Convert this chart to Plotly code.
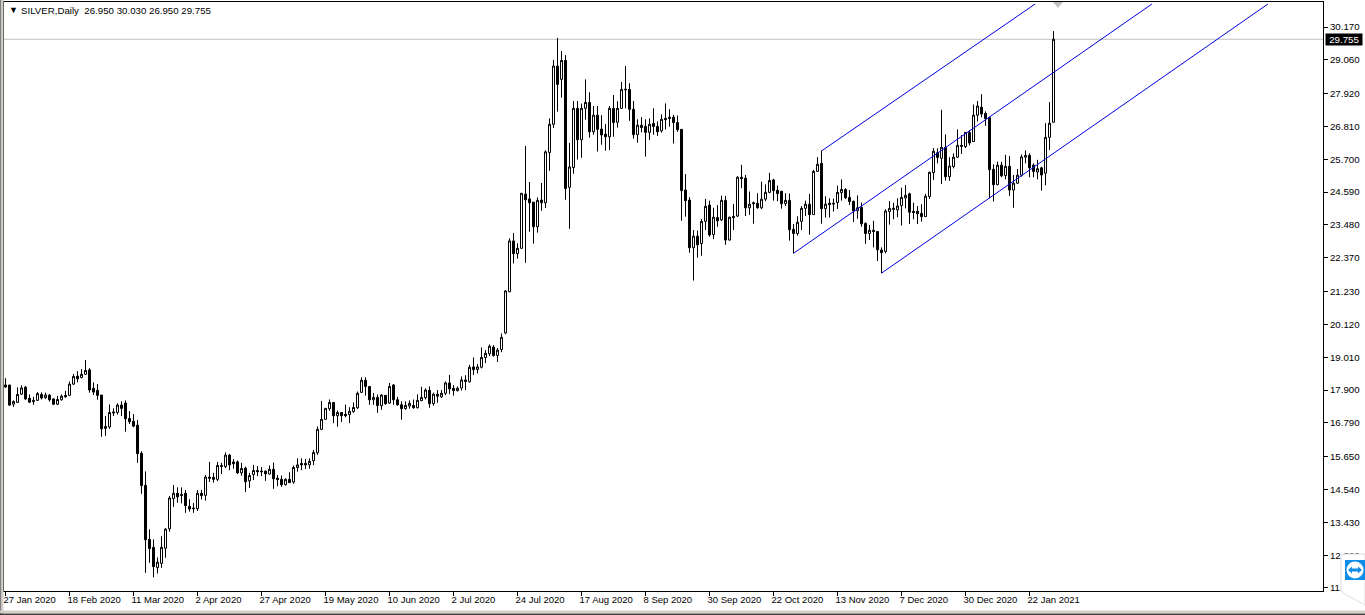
import plotly.graph_objects as go

opens = [18.07,18.07,17.42,17.48,17.76,18.00,17.62,17.55,17.55,17.75,17.64,17.73,17.60,17.42,17.57,17.72,17.72,18.10,18.37,18.32,
18.43,18.58,17.96,17.89,17.73,16.60,16.65,17.16,17.14,17.39,17.46,16.94,16.84,16.71,15.76,14.68,12.85,12.58,11.90,12.04,
12.55,13.21,14.23,14.41,14.37,14.41,13.97,13.91,13.89,14.41,14.34,14.96,14.95,14.88,15.35,15.31,15.70,15.47,15.47,15.10,
15.26,14.83,15.04,15.18,15.16,15.16,15.06,15.22,14.92,14.88,14.70,14.88,14.79,15.28,15.42,15.42,15.37,15.51,15.78,16.57,
16.91,17.27,17.48,17.03,17.14,17.08,17.07,17.17,17.30,17.82,18.23,18.02,17.57,17.65,17.37,17.72,17.46,18.07,17.57,17.40,
17.27,17.36,17.38,17.30,17.54,17.64,17.89,17.44,17.76,17.67,17.79,18.14,17.96,17.88,17.97,18.24,18.18,18.68,18.59,18.67,
19.00,19.13,19.35,19.07,19.27,19.83,21.22,22.94,22.51,22.69,24.52,24.36,24.25,23.42,24.32,24.23,25.93,26.88,28.85,28.40,
29.04,24.75,25.42,27.42,26.36,27.42,27.62,26.63,27.19,26.72,26.55,26.46,27.42,26.95,27.42,28.07,28.06,27.39,26.53,26.85,
26.81,26.61,26.91,26.81,26.66,27.08,27.12,27.12,26.94,26.71,24.66,24.32,22.71,23.10,22.85,23.60,24.15,23.15,23.73,23.65,
24.31,22.97,23.77,23.78,25.09,25.06,24.06,24.23,24.21,24.06,24.35,24.58,25.00,24.65,24.62,24.20,24.31,23.33,23.19,23.60,
24.04,24.18,23.83,25.29,25.56,24.03,24.21,24.21,24.24,24.57,24.68,24.41,24.28,23.96,24.07,23.53,23.19,23.30,23.26,22.63,
22.58,23.93,24.04,23.99,24.13,24.39,24.53,23.94,23.94,23.87,23.76,24.44,25.25,25.92,25.73,26.10,25.11,25.45,25.77,26.17,
26.13,26.60,26.30,27.19,27.46,27.25,27.11,25.36,24.84,25.50,25.15,25.46,24.66,24.89,25.16,25.77,25.83,25.50,25.27,25.41,
25.23,26.44,26.95]

highs = [18.30,18.07,17.55,17.99,18.06,18.03,17.75,17.67,17.83,17.82,17.81,17.76,17.62,17.70,17.75,17.87,18.19,18.44,18.54,18.61,
18.91,18.64,18.16,18.10,17.73,17.02,17.41,17.28,17.45,17.52,17.55,17.19,17.09,16.89,15.83,15.15,13.19,12.85,12.24,12.96,
13.23,14.32,14.69,14.61,14.61,14.52,14.21,14.08,14.52,14.52,15.03,15.47,15.10,15.47,15.44,15.79,15.74,15.57,15.52,15.44,
15.31,15.10,15.37,15.33,15.30,15.18,15.35,15.45,15.03,15.01,14.92,15.12,15.35,15.59,15.59,15.57,15.59,15.87,16.67,17.53,
17.28,17.58,17.49,17.21,17.14,17.41,17.32,17.48,17.85,18.33,18.33,18.02,17.80,17.75,17.76,17.72,18.14,18.10,17.67,17.52,
17.52,17.55,17.58,17.75,18.01,17.96,18.02,17.81,17.90,17.90,18.19,18.41,18.07,18.02,18.36,18.40,18.75,19.00,18.78,19.34,
19.25,19.44,19.42,19.32,19.81,21.28,23.03,23.21,22.86,24.55,26.15,24.93,24.25,24.41,24.90,26.00,27.08,29.06,29.80,29.36,
29.22,26.25,27.67,27.67,27.58,28.40,27.96,27.50,27.50,27.19,26.89,27.50,27.87,27.66,28.31,28.85,28.27,27.67,27.05,27.12,
27.05,27.08,27.42,26.98,27.22,27.59,27.39,27.20,27.18,26.71,25.20,24.42,23.31,23.29,23.68,24.36,24.30,24.06,24.15,24.47,
24.46,23.76,24.19,25.13,25.51,25.17,24.61,24.27,24.55,24.94,24.85,25.24,25.04,24.81,24.62,24.55,24.54,23.51,23.77,24.12,
24.30,24.53,25.34,25.77,25.99,24.45,24.38,24.37,24.81,25.02,24.72,24.66,24.30,24.48,24.24,23.57,23.48,23.62,23.26,22.72,
24.01,24.29,24.23,24.38,24.74,24.83,24.57,24.23,24.12,24.18,24.53,25.28,26.08,26.07,27.37,26.54,25.77,25.90,26.71,26.52,
26.61,26.69,27.55,27.67,27.90,27.32,27.14,25.53,25.62,25.61,25.85,25.81,25.17,25.37,25.86,26.00,25.90,25.56,25.68,25.45,
26.92,27.63,30.03]

lows = [17.98,17.37,17.33,17.47,17.73,17.56,17.46,17.40,17.53,17.58,17.60,17.51,17.39,17.39,17.54,17.64,17.70,18.07,18.16,18.30,
18.41,17.81,17.73,17.57,16.32,16.35,16.59,17.02,17.07,17.02,16.49,16.75,16.64,15.44,14.39,11.72,12.06,11.57,11.70,11.89,
12.23,13.11,13.95,14.09,14.07,13.75,13.79,13.75,13.81,14.20,14.16,14.79,14.77,14.82,15.06,15.26,15.19,15.24,15.06,15.00,
14.45,14.59,14.86,14.99,14.99,14.83,15.04,14.56,14.65,14.63,14.67,14.76,14.73,15.14,15.19,15.23,15.24,15.36,15.71,16.55,
16.89,17.20,16.78,16.66,16.82,16.98,16.78,17.13,17.26,17.80,17.71,17.40,17.40,17.13,17.23,17.40,17.43,17.40,17.37,16.90,
17.23,17.27,17.27,17.28,17.52,17.58,17.30,17.37,17.47,17.63,17.73,17.76,17.71,17.85,17.88,17.90,18.15,18.41,18.46,18.63,
18.81,19.05,19.03,18.85,19.18,19.79,21.21,22.18,22.34,22.68,22.20,23.25,22.85,23.22,23.96,24.05,25.31,26.76,27.31,27.78,
24.33,23.35,25.21,25.69,25.75,27.04,26.43,26.53,25.96,26.19,25.99,26.01,26.46,26.77,27.41,27.42,27.00,26.40,26.26,26.61,
25.79,26.35,26.53,26.49,26.60,26.71,26.80,26.23,26.63,23.62,23.76,22.54,21.60,22.37,22.44,23.31,23.08,23.00,23.42,23.61,
22.81,22.95,23.31,23.75,24.72,23.78,23.82,23.52,24.03,24.01,24.28,24.55,24.30,24.28,24.03,24.12,22.95,22.52,23.12,23.31,
23.78,23.15,23.83,25.27,23.52,23.73,23.73,23.93,24.02,24.30,24.35,24.15,23.58,23.69,23.42,22.84,22.97,22.72,22.26,21.85,
22.52,23.49,23.67,23.74,23.46,24.04,23.51,23.67,23.51,23.59,23.76,24.36,25.00,25.56,24.86,24.98,24.97,25.39,25.74,25.88,
26.08,26.17,26.29,26.98,27.12,26.83,24.38,24.27,24.82,25.09,25.02,24.46,24.06,24.86,25.11,25.56,25.09,25.09,25.02,24.64,
24.82,26.01,26.95]

closes = [18.00,17.39,17.51,17.75,17.97,17.60,17.49,17.51,17.78,17.63,17.73,17.57,17.42,17.58,17.69,17.67,18.10,18.36,18.28,18.43,
18.56,17.90,17.83,17.72,16.59,16.67,17.14,17.13,17.39,17.28,16.93,16.83,16.68,15.75,14.67,12.84,12.54,11.93,12.08,12.58,
13.20,14.25,14.41,14.29,14.34,13.99,13.88,13.89,14.41,14.33,14.96,14.92,14.88,15.35,15.32,15.70,15.37,15.41,15.10,15.25,
14.80,15.01,15.18,15.14,15.14,15.07,15.22,14.90,14.87,14.70,14.88,14.77,15.28,15.37,15.37,15.37,15.49,15.79,16.57,16.91,
17.28,17.48,17.03,17.14,17.03,17.03,17.18,17.31,17.79,18.23,18.02,17.57,17.65,17.37,17.73,17.44,18.02,17.57,17.40,17.27,
17.38,17.45,17.30,17.55,17.65,17.90,17.44,17.76,17.69,17.79,18.14,17.94,17.88,17.96,18.24,18.19,18.67,18.59,18.68,19.00,
19.14,19.38,19.07,19.25,19.68,21.25,22.94,22.51,22.69,24.55,24.33,24.23,23.42,24.31,24.23,25.95,26.88,28.85,28.23,29.04,
24.71,25.44,27.42,26.36,27.42,27.62,26.63,27.19,26.71,26.52,26.46,27.42,26.94,27.42,28.06,28.05,27.39,26.53,26.85,26.77,
26.61,26.88,26.81,26.63,27.05,27.04,27.08,26.94,26.70,24.64,24.30,22.71,23.10,22.81,23.60,24.11,23.14,23.74,23.62,24.31,
22.97,23.74,23.73,25.09,25.05,24.06,24.18,24.20,24.06,24.35,24.58,24.98,24.64,24.54,24.20,24.31,23.32,23.19,23.57,24.04,
24.18,23.83,25.29,25.53,24.03,24.18,24.17,24.19,24.58,24.68,24.40,24.27,23.95,24.06,23.52,23.19,23.30,23.26,22.64,22.54,
23.95,24.04,24.01,24.12,24.41,24.48,23.91,23.90,23.86,23.76,24.45,25.26,25.97,25.76,26.10,25.11,25.47,25.77,26.17,26.14,
26.61,26.25,27.19,27.50,27.23,27.07,25.35,24.84,25.50,25.14,25.46,24.66,24.89,25.16,25.78,25.83,25.41,25.29,25.38,25.17,
26.44,26.92,29.755]

date_labels = ["27 Jan 2020","18 Feb 2020","11 Mar 2020","2 Apr 2020","27 Apr 2020","19 May 2020","10 Jun 2020",
               "2 Jul 2020","24 Jul 2020","17 Aug 2020","8 Sep 2020","30 Sep 2020","22 Oct 2020","13 Nov 2020",
               "7 Dec 2020","30 Dec 2020","22 Jan 2021"]
date_label_bars = list(range(0, 272, 16))
price_ticks = [30.170,29.060,27.920,26.810,25.700,24.590,23.480,22.370,21.230,20.120,19.010,17.900,16.790,15.650,14.540,13.430,12.320,11.210]

channel_upper_x = [204, 257.4]
channel_upper_y = [25.98, 30.947]
channel_mid_x = [197, 286.6]
channel_mid_y = [22.52, 30.947]
channel_lower_x = [219, 315.6]
channel_lower_y = [21.85, 30.947]
last_price = 29.755

W, H = 1365, 615
L, R, T, B = 4, 1323, 2, 591
def px(x): return (x - L) / (R - L)
def py(y): return (B - y) / (B - T)
bars = list(range(len(opens)))
FONT = "Liberation Sans"

fig = go.Figure()
fig.add_trace(go.Candlestick(
    x=bars, open=opens, high=highs, low=lows, close=closes,
    increasing=dict(line=dict(color="black", width=1), fillcolor="white"),
    decreasing=dict(line=dict(color="black", width=1), fillcolor="black"),
    whiskerwidth=0, hoverinfo="skip", showlegend=False))
for xs, ys in [(channel_upper_x, channel_upper_y), (channel_mid_x, channel_mid_y), (channel_lower_x, channel_lower_y)]:
    fig.add_trace(go.Scatter(x=xs, y=ys, mode="lines", line=dict(color="#0000E0", width=1),
                             hoverinfo="skip", showlegend=False))

shapes = [
    dict(type="line", xref="paper", yref="y", x0=0, x1=1, y0=last_price, y1=last_price,
         line=dict(color="#C0C0C0", width=1), layer="below"),
    # window chrome
    dict(type="rect", xref="paper", yref="paper", x0=px(0), x1=px(1.5), y0=py(615), y1=py(0),
         line_width=0, fillcolor="#808080"),
    dict(type="rect", xref="paper", yref="paper", x0=px(1.5), x1=px(3.5), y0=py(615), y1=py(0),
         line_width=0, fillcolor="#D4D0C8"),
    dict(type="rect", xref="paper", yref="paper", x0=px(0), x1=px(1365), y0=py(613.5), y1=py(615),
         line_width=0, fillcolor="#404040"),
    dict(type="rect", xref="paper", yref="paper", x0=px(0), x1=px(1365), y0=py(610.5), y1=py(613),
         line_width=0, fillcolor="#D4D0C8"),
    # top marker
    dict(type="path", xref="paper", yref="paper",
         path=f"M {px(1053)} {py(2)} L {px(1063)} {py(2)} L {px(1058)} {py(8)} Z",
         line_width=0, fillcolor="#C0C0C0"),
    # floating widget
    dict(type="path", xref="paper", yref="paper",
         path=f"M {px(1343)} {py(554)} L {px(1365)} {py(554)} L {px(1365)} {py(605)} L {px(1343)} {py(593)} L {px(1341)} {py(590)} L {px(1341)} {py(556)} Z",
         line=dict(color="#D8DCE0", width=1), fillcolor="white"),
    dict(type="rect", xref="paper", yref="paper", x0=px(1345), x1=px(1365), y0=py(580), y1=py(560),
         line_width=0, fillcolor="#0E8EE9"),
    dict(type="circle", xref="paper", yref="paper", x0=px(1346.5), x1=px(1363.5), y0=py(578.5), y1=py(561.5),
         line_width=0, fillcolor="white"),
    dict(type="path", xref="paper", yref="paper",
         path=f"M {px(1348)} {py(570)} L {px(1352)} {py(566.5)} L {px(1352)} {py(568.5)} L {px(1358)} {py(568.5)} L {px(1358)} {py(566.5)} L {px(1362)} {py(570)} L {px(1358)} {py(573.5)} L {px(1358)} {py(571.5)} L {px(1352)} {py(571.5)} L {px(1352)} {py(573.5)} Z",
         line_width=0, fillcolor="#0E8EE9"),
]

annotations = [
    dict(xref="paper", yref="paper", x=px(7), y=py(10), text="▼", showarrow=False, xanchor="left", yanchor="middle",
         font=dict(family=FONT, size=9, color="black")),
    dict(xref="paper", yref="paper", x=px(19), y=py(10), showarrow=False, xanchor="left", yanchor="middle",
         text="SILVER,Daily  26.950 30.030 26.950 29.755",
         font=dict(family=FONT, size=9.7, color="black")),
    dict(xref="paper", yref="y", x=px(1325), y=last_price, text="29.755", showarrow=False, xanchor="left", yanchor="middle",
         bgcolor="black", borderpad=0, width=36, height=11, align="center",
         font=dict(family=FONT, size=9.7, color="white")),
]

fig.update_layout(
    width=W, height=H, autosize=False,
    margin=dict(l=L, r=W - R, t=T, b=H - B, pad=0, autoexpand=False),
    paper_bgcolor="white", plot_bgcolor="white",
    boxgap=0.5, boxgroupgap=0, hovermode=False, showlegend=False,
    shapes=shapes, annotations=annotations,
    xaxis=dict(range=[(L - 5.5) / 4, (R - 5.5) / 4], rangeslider=dict(visible=False),
               tickmode="array", tickvals=date_label_bars, ticktext=date_labels, tickangle=0, automargin=False,
               ticks="outside", ticklen=4, tickwidth=1, tickcolor="black",
               ticklabelposition="outside right", ticklabelshift=-3,
               showgrid=False, zeroline=False, showline=True, linecolor="black", linewidth=1, mirror=True,
               tickfont=dict(family=FONT, size=9.5, color="black")),
    yaxis=dict(range=[11.107, 31.015], side="right", automargin=False,
               tickmode="array", tickvals=price_ticks, ticktext=[f"{p:.3f}" for p in price_ticks],
               ticks="outside", ticklen=4, tickwidth=1, tickcolor="black",
               showgrid=False, zeroline=False, showline=True, linecolor="black", linewidth=1, mirror=True,
               tickfont=dict(family=FONT, size=9.7, color="black")),
)
fig.write_html("out.html", config=dict(displayModeBar=False), post_script="document.body.style.margin='0';document.body.style.overflow='hidden';")
